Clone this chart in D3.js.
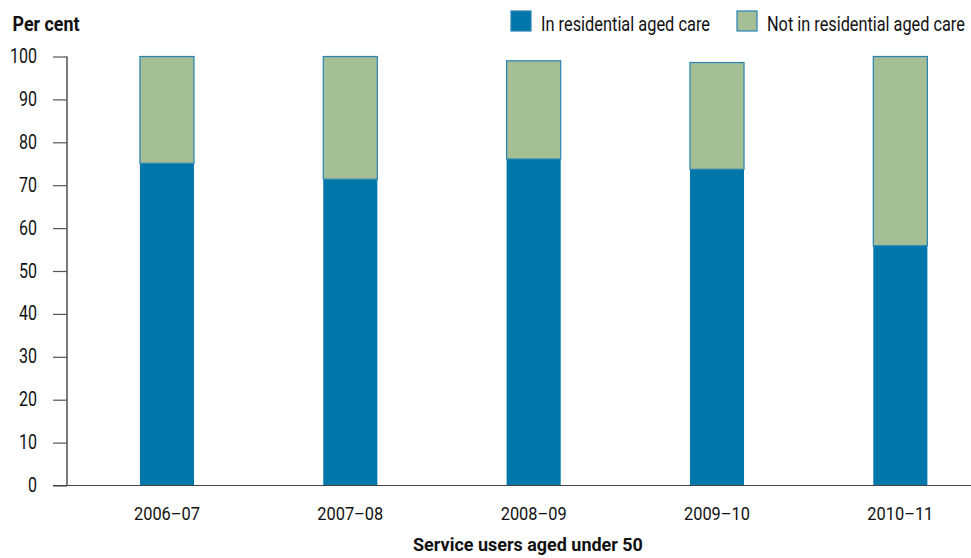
<!DOCTYPE html>
<html>
<head>
<meta charset="utf-8">
<script src="https://cdn.jsdelivr.net/npm/d3@7"></script>
<style>
  body { margin: 0; background: #fff; }
  svg text { font-family: Roboto, "Liberation Sans", sans-serif; fill: #111; }
</style>
</head>
<body>
<svg id="chart" width="971" height="558"></svg>
<script>
// Financial years shown on the x axis
const years = ["2006–07", "2007–08", "2008–09", "2009–10", "2010–11"];
// Share of service users aged under 50 (per cent)
const inResidential = [75.1, 71.4, 76.1, 73.7, 55.9];
const notInResidential = [24.9, 28.6, 22.9, 24.9, 44.1];
const seriesNames = ["In residential aged care", "Not in residential aged care"];
const yTicks = [0, 10, 20, 30, 40, 50, 60, 70, 80, 90, 100];

const colors = ["#0077ab", "#a4be95"];

const svg = d3.select("#chart");

// Squeeze a text horizontally to a set width around its anchor point,
// so a regular face takes on the narrow look of the labels
function fit(sel, w) {
  sel.each(function () {
    const t = d3.select(this);
    const natural = this.getComputedTextLength();
    if (!natural) return;
    const s = w / natural;
    const ax = +t.attr("x") || 0;
    const ay = +t.attr("y") || 0;
    t.attr("transform", `translate(${ax},${ay}) scale(${s},1) translate(${-ax},${-ay})`);
  });
}

const x = d3.scaleBand().domain(years).range([75.3, 992]).paddingInner(0.705).paddingOuter(0.3525);
const y = d3.scaleLinear().domain([0, 100]).range([485.5, 56.5]);

const rows = years.map((yr, i) => ({ year: yr, a: inResidential[i], b: notInResidential[i] }));
const stacked = d3.stack().keys(["a", "b"])(rows);

// Stacked bars
stacked.forEach((layer, li) => {
  svg.append("g").selectAll("rect")
    .data(layer)
    .join("rect")
    .attr("x", d => x(d.data.year))
    .attr("width", x.bandwidth())
    .attr("y", d => y(d[1]))
    .attr("height", d => y(d[0]) - y(d[1]))
    .attr("fill", colors[li])
    .attr("stroke", li === 1 ? "#2a83b4" : "none")
    .attr("stroke-width", li === 1 ? 1.2 : 0);
});

// Y axis
const yAxis = svg.append("g")
  .attr("transform", "translate(67,0)")
  .call(d3.axisLeft(y).tickValues(yTicks).tickSize(14).tickPadding(16));
yAxis.select(".domain").attr("stroke", "#222").attr("stroke-width", 1.2).attr("d", `M0,${y(100)}V${y(0)}`);
yAxis.selectAll(".tick line").attr("stroke", "#555").attr("stroke-width", 1.2);
yAxis.selectAll(".tick text")
  .attr("font-size", 20).attr("fill", "#111").attr("dy", "0.3em")
  .style("font-family", "Roboto, sans-serif")
  .each(function (d) {
    d3.select(this).attr("textLength", String(d).length * 9).attr("lengthAdjust", "spacingAndGlyphs");
  });

// X axis baseline
svg.append("line")
  .attr("x1", 53).attr("x2", 971)
  .attr("y1", y(0)).attr("y2", y(0))
  .attr("stroke", "#444").attr("stroke-width", 1.2);

// Year labels
svg.append("g").selectAll("text")
  .data(years)
  .join("text")
  .attr("x", d => x(d) + x.bandwidth() / 2)
  .attr("y", 520)
  .attr("text-anchor", "middle")
  .attr("font-size", 19)
  .text(d => d)
  .call(fit, 66);

// Axis titles
svg.append("text")
  .attr("x", 12.5).attr("y", 31.5)
  .attr("font-size", 20).attr("font-weight", "bold")
  .text("Per cent")
  .call(fit, 67);

svg.append("text")
  .attr("x", 528).attr("y", 551)
  .attr("text-anchor", "middle")
  .attr("font-size", 19).attr("font-weight", "bold")
  .text("Service users aged under 50")
  .call(fit, 230);

// Legend
const legendX = [511, 737];
const legendW = [169, 198];
const legend = svg.append("g");
seriesNames.forEach((name, i) => {
  legend.append("rect")
    .attr("x", legendX[i]).attr("y", 11)
    .attr("width", 20).attr("height", 20)
    .attr("fill", colors[i])
    .attr("stroke", "#2a83b4").attr("stroke-width", 1.2);
  legend.append("text")
    .attr("x", legendX[i] + 30).attr("y", 31)
    .attr("font-size", 21)
    .text(name)
    .call(fit, legendW[i]);
});
</script>
</body>
</html>
